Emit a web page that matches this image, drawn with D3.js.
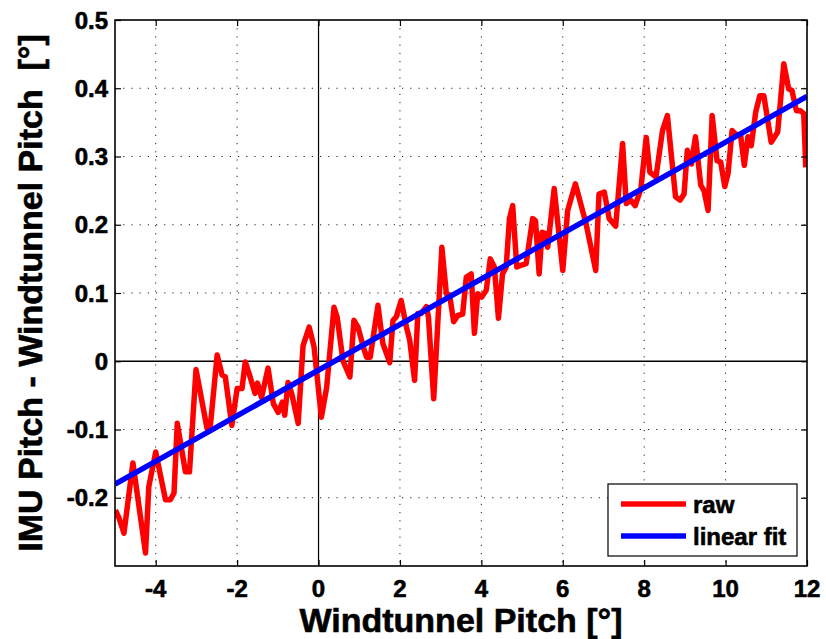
<!DOCTYPE html>
<html>
<head>
<meta charset="utf-8">
<script src="https://cdnjs.cloudflare.com/ajax/libs/d3/7.8.5/d3.min.js"></script>
<style>
  body { margin: 0; background: #fff; }
  text { font-family: "Liberation Sans", Arial, sans-serif; font-weight: bold; fill: #000; stroke: #000; stroke-width: 0.6px; }
</style>
</head>
<body>
<div id="chart"></div>
<script>
var rawX = [-4.99, -4.90, -4.78, -4.56, -4.25, -4.17, -4.00, -3.76, -3.64, -3.55,
  -3.47, -3.27, -3.17, -3.01, -2.74, -2.66, -2.49, -2.37, -2.29, -2.13,
  -2.00, -1.88, -1.80, -1.68, -1.56, -1.50, -1.40, -1.24, -1.11, -0.99,
  -0.89, -0.83, -0.75, -0.66, -0.50, -0.38, -0.23, -0.11, 0.07, 0.20,
  0.38, 0.46, 0.60, 0.77, 0.87, 0.97, 1.09, 1.18, 1.27, 1.46,
  1.58, 1.75, 1.83, 1.91, 2.03, 2.16, 2.24, 2.36, 2.44, 2.52,
  2.65, 2.70, 2.83, 3.03, 3.14, 3.22, 3.32, 3.42, 3.54, 3.63,
  3.75, 3.83, 3.91, 4.01, 4.12, 4.22, 4.32, 4.42, 4.52, 4.61,
  4.69, 4.77, 4.87, 4.99, 5.10, 5.26, 5.33, 5.42, 5.49, 5.57,
  5.63, 5.79, 6.00, 6.12, 6.31, 6.57, 6.81, 6.89, 7.02, 7.14,
  7.30, 7.47, 7.56, 7.67, 7.78, 7.92, 8.05, 8.14, 8.29, 8.45,
  8.57, 8.77, 8.88, 8.98, 9.06, 9.16, 9.26, 9.39, 9.47, 9.57,
  9.67, 9.79, 9.88, 9.98, 10.06, 10.16, 10.24, 10.37, 10.46, 10.55,
  10.63, 10.74, 10.84, 10.94, 11.12, 11.28, 11.43, 11.55, 11.63, 11.74,
  11.84, 11.92, 11.97];
var rawY = [-0.218, -0.230, -0.252, -0.149, -0.281, -0.184, -0.133, -0.203, -0.203, -0.193,
  -0.091, -0.162, -0.162, -0.012, -0.098, -0.096, 0.009, -0.020, -0.023, -0.094,
  -0.040, -0.040, -0.001, -0.023, -0.047, -0.032, -0.053, -0.010, -0.062, -0.075,
  -0.060, -0.079, -0.031, -0.047, -0.091, 0.023, 0.050, 0.021, -0.082, -0.038,
  0.079, 0.064, 0.001, -0.023, 0.060, 0.050, 0.023, 0.006, 0.006, 0.082,
  0.026, -0.002, 0.060, 0.065, 0.089, 0.050, 0.031, -0.028, 0.070, 0.070,
  0.080, 0.065, -0.055, 0.167, 0.099, 0.097, 0.058, 0.067, 0.069, 0.123,
  0.128, 0.041, 0.099, 0.094, 0.104, 0.150, 0.138, 0.063, 0.128, 0.138,
  0.209, 0.228, 0.138, 0.141, 0.143, 0.209, 0.206, 0.128, 0.189, 0.187,
  0.167, 0.253, 0.133, 0.221, 0.260, 0.202, 0.133, 0.245, 0.248, 0.209,
  0.198, 0.319, 0.231, 0.236, 0.228, 0.253, 0.328, 0.277, 0.270, 0.338,
  0.360, 0.241, 0.236, 0.245, 0.309, 0.289, 0.329, 0.258, 0.250, 0.221,
  0.360, 0.294, 0.292, 0.256, 0.275, 0.338, 0.333, 0.331, 0.287, 0.329,
  0.316, 0.365, 0.389, 0.389, 0.321, 0.336, 0.436, 0.399, 0.397, 0.367,
  0.367, 0.363, 0.284];

// linear fit end points
var fitX = [-5, 12];
var fitY = [-0.180, 0.388];

var xTicks = [-4, -2, 0, 2, 4, 6, 8, 10, 12];
var yTicks = [-0.2, -0.1, 0, 0.1, 0.2, 0.3, 0.4, 0.5];
var legendLabels = ["raw", "linear fit"];
var seriesColors = ["#ff0000", "#0000ff"];

var svgWidth = 826;
var svgHeight = 639;

var margin = { top: 20, right: 19, bottom: 73, left: 115 };
var chartWidth = svgWidth - margin.left - margin.right;
var chartHeight = svgHeight - margin.top - margin.bottom;

var svg = d3.select("#chart")
  .append("svg")
  .attr("width", svgWidth)
  .attr("height", svgHeight);

var chartGroup = svg.append("g")
  .attr("transform", `translate(${margin.left}, ${margin.top})`);

var xScale = d3.scaleLinear().domain([-5, 12]).range([0, chartWidth]);
var yScale = d3.scaleLinear().domain([-0.3, 0.5]).range([chartHeight, 0]);

// dotted grid
chartGroup.selectAll(".vgrid")
  .data(xTicks.filter(d => d !== 0 && d !== 12))
  .enter()
  .append("line")
  .attr("x1", d => xScale(d)).attr("x2", d => xScale(d))
  .attr("y1", 0).attr("y2", chartHeight)
  .attr("stroke", "#222")
  .attr("stroke-width", 1)
  .attr("stroke-dasharray", "1.2,7");

chartGroup.selectAll(".hgrid")
  .data(yTicks.filter(d => d !== 0 && d !== 0.5))
  .enter()
  .append("line")
  .attr("y1", d => yScale(d)).attr("y2", d => yScale(d))
  .attr("x1", 0).attr("x2", chartWidth)
  .attr("stroke", "#222")
  .attr("stroke-width", 1)
  .attr("stroke-dasharray", "1.2,7");

// zero lines
chartGroup.append("line")
  .attr("x1", xScale(0)).attr("x2", xScale(0))
  .attr("y1", 0).attr("y2", chartHeight)
  .attr("stroke", "#000").attr("stroke-width", 1.2);
chartGroup.append("line")
  .attr("x1", 0).attr("x2", chartWidth)
  .attr("y1", yScale(0)).attr("y2", yScale(0))
  .attr("stroke", "#000").attr("stroke-width", 1.6);

// clip the data lines to the axes box
svg.append("defs").append("clipPath").attr("id", "clip")
  .append("rect").attr("width", chartWidth).attr("height", chartHeight);

var line = d3.line()
  .x(d => xScale(d[0]))
  .y(d => yScale(d[1]));

var plotGroup = chartGroup.append("g").attr("clip-path", "url(#clip)");

plotGroup.append("path")
  .datum(d3.zip(rawX, rawY))
  .attr("d", line)
  .attr("fill", "none")
  .attr("stroke", seriesColors[0])
  .attr("stroke-width", 5.5)
  .attr("stroke-linejoin", "round");

plotGroup.append("path")
  .datum(d3.zip(fitX, fitY))
  .attr("d", line)
  .attr("fill", "none")
  .attr("stroke", seriesColors[1])
  .attr("stroke-width", 5.5);

// axes (ticks inside, on all four sides)
var tickLen = 6;
var bottomAxis = d3.axisBottom(xScale).tickValues(xTicks).tickSize(-tickLen).tickPadding(0).tickFormat("");
var topAxis = d3.axisTop(xScale).tickValues(xTicks).tickSize(-tickLen).tickFormat("");
var leftAxis = d3.axisLeft(yScale).tickValues(yTicks).tickSize(-tickLen).tickFormat("");
var rightAxis = d3.axisRight(yScale).tickValues(yTicks).tickSize(-tickLen).tickFormat("");

chartGroup.append("g").attr("transform", `translate(0, ${chartHeight})`).call(bottomAxis);
chartGroup.append("g").call(topAxis);
chartGroup.append("g").call(leftAxis);
chartGroup.append("g").attr("transform", `translate(${chartWidth}, 0)`).call(rightAxis);
chartGroup.selectAll(".domain").remove();
chartGroup.selectAll(".tick line").attr("stroke", "#000").attr("stroke-width", 1.2);

// box
chartGroup.append("rect")
  .attr("width", chartWidth)
  .attr("height", chartHeight)
  .attr("fill", "none")
  .attr("stroke", "#000")
  .attr("stroke-width", 1.6);

// tick labels
chartGroup.selectAll(".xlab")
  .data(xTicks)
  .enter()
  .append("text")
  .attr("x", d => xScale(d))
  .attr("y", chartHeight + 31)
  .attr("text-anchor", "middle")
  .attr("font-size", "24px")
  .text(d => d);

chartGroup.selectAll(".ylab")
  .data(yTicks)
  .enter()
  .append("text")
  .attr("x", -7)
  .attr("y", d => yScale(d))
  .attr("dy", "0.36em")
  .attr("text-anchor", "end")
  .attr("font-size", "24px")
  .text(d => d === 0 ? "0" : d3.format(".1f")(d).replace("\u2212", "-"));

// axis titles
svg.append("text")
  .attr("x", margin.left + chartWidth / 2)
  .attr("y", 632)
  .attr("text-anchor", "middle")
  .attr("font-size", "34px")
  .text("Windtunnel Pitch [\u00b0]");

svg.append("text")
  .attr("transform", `translate(42, ${margin.top + chartHeight / 2}) rotate(-90)`)
  .attr("text-anchor", "middle")
  .attr("font-size", "34px")
  .text("IMU Pitch - Windtunnel Pitch \u00a0[\u00b0]");

// legend
var legend = svg.append("g").attr("transform", "translate(608, 484)");
legend.append("rect")
  .attr("width", 189)
  .attr("height", 72)
  .attr("fill", "#fff")
  .attr("stroke", "#000")
  .attr("stroke-width", 1.2);

legendLabels.forEach(function(lbl, i) {
  legend.append("line")
    .attr("x1", 13).attr("x2", 78)
    .attr("y1", 20 + i * 32).attr("y2", 20 + i * 32)
    .attr("stroke", seriesColors[i])
    .attr("stroke-width", 5.5);
  legend.append("text")
    .attr("x", 85)
    .attr("y", 29 + i * 32)
    .attr("font-size", "24px")
    .text(lbl);
});
</script>
</body>
</html>
